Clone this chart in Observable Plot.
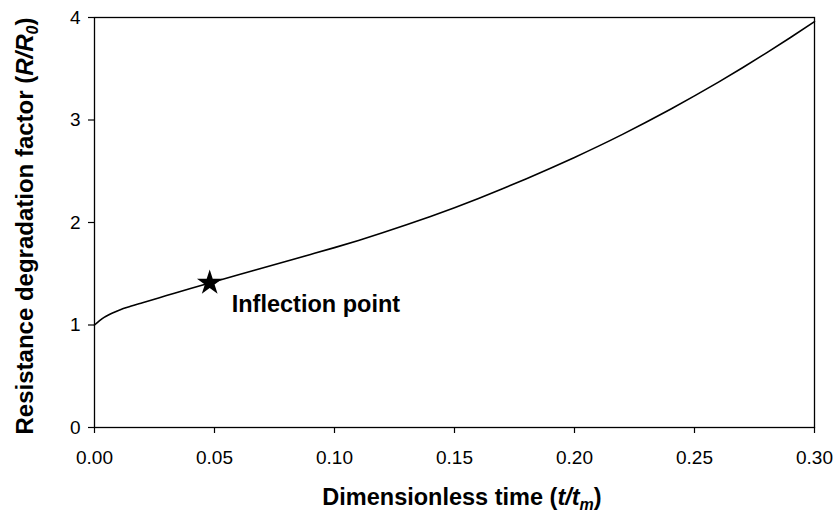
<!DOCTYPE html>
<html>
<head>
<meta charset="utf-8">
<script src="https://cdn.jsdelivr.net/npm/d3@7"></script>
<script src="https://cdn.jsdelivr.net/npm/@observablehq/plot@0.6"></script>
<style>
  html, body { margin: 0; padding: 0; background: #fff; }
  #chart { width: 834px; height: 518px; }
</style>
</head>
<body>
<div id="chart"></div>
<script>
// Dimensionless time t/tm
const time = [0, 0.002, 0.004, 0.006, 0.008, 0.010, 0.012, 0.015, 0.02, 0.03, 0.04, 0.048, 0.06, 0.07, 0.08, 0.09, 0.10, 0.11, 0.12, 0.13, 0.14, 0.15, 0.16, 0.17, 0.18, 0.19, 0.20, 0.21, 0.22, 0.23, 0.24, 0.25, 0.26, 0.27, 0.28, 0.29, 0.30];
// Resistance degradation factor R/R0
const factor = [1.00, 1.04, 1.074, 1.10, 1.122, 1.142, 1.16, 1.183, 1.218, 1.287, 1.356, 1.41, 1.49, 1.556, 1.622, 1.688, 1.755, 1.825, 1.899, 1.977, 2.059, 2.145, 2.235, 2.329, 2.427, 2.529, 2.635, 2.745, 2.86, 2.98, 3.105, 3.235, 3.37, 3.51, 3.655, 3.805, 3.96];
// Inflection point marker
const markerTime = [0.048];
const markerFactor = [1.41];
const markerLabel = ["Inflection point"];
// Tick values
const xTicks = [0, 0.05, 0.10, 0.15, 0.20, 0.25, 0.30];
const yTicks = [0, 1, 2, 3, 4];

const curve = time.map((t, i) => ({t, r: factor[i]}));
const marker = markerTime.map((t, i) => ({t, r: markerFactor[i], label: markerLabel[i]}));

const W = 834, H = 518;
const ml = 94, mr = 20, mt = 17, mb = 91;

const plot = Plot.plot({
  width: W,
  height: H,
  marginLeft: ml,
  marginRight: mr,
  marginTop: mt,
  marginBottom: mb,
  style: {fontFamily: "'Liberation Sans', Arial, sans-serif", fontSize: "19px", color: "#000", background: "#fff"},
  x: {domain: [0, 0.30], label: null},
  y: {domain: [0, 4], label: null},
  marks: [
    Plot.frame({stroke: "#000", strokeWidth: 1.3}),
    Plot.axisX({ticks: xTicks, tickFormat: d3.format(".2f"), tickSize: 6, tickPadding: 17, stroke: "#000", strokeWidth: 1.2, fill: "#000", label: null}),
    Plot.axisY({ticks: yTicks, tickFormat: d3.format("d"), tickSize: 6, tickPadding: 8, stroke: "#000", strokeWidth: 1.2, fill: "#000", label: null}),
    Plot.line(curve, {x: "t", y: "r", stroke: "#000", strokeWidth: 1.6, curve: "monotone-x"}),
    Plot.dot(marker, {x: "t", y: "r", symbol: "star", r: 8, fill: "#000", stroke: "none"}),
    Plot.text(marker, {x: "t", y: "r", text: "label", textAnchor: "start", dx: 22, dy: 21, fontWeight: "bold", fontSize: 23.5, fill: "#000"})
  ]
});

document.getElementById("chart").appendChild(plot);

const svg = d3.select(plot);
// Y axis title
const yt = svg.append("text")
  .attr("transform", `translate(33,226) rotate(-90)`)
  .attr("text-anchor", "middle")
  .attr("font-weight", "bold")
  .attr("font-size", 24)
  .attr("fill", "#000");
yt.append("tspan").text("Resistance degradation factor (");
yt.append("tspan").attr("font-style", "italic").text("R/R");
yt.append("tspan").attr("font-style", "italic").attr("font-size", 16).attr("dy", 5).text("0");
yt.append("tspan").attr("dy", -5).text(")");

// X axis title
const xt = svg.append("text")
  .attr("x", 462)
  .attr("y", 505)
  .attr("text-anchor", "middle")
  .attr("font-weight", "bold")
  .attr("font-size", 23.5)
  .attr("fill", "#000");
xt.append("tspan").text("Dimensionless time (");
xt.append("tspan").attr("font-style", "italic").text("t/t");
xt.append("tspan").attr("font-style", "italic").attr("font-size", 16).attr("dy", 5).text("m");
xt.append("tspan").attr("dy", -5).text(")");
</script>
</body>
</html>
